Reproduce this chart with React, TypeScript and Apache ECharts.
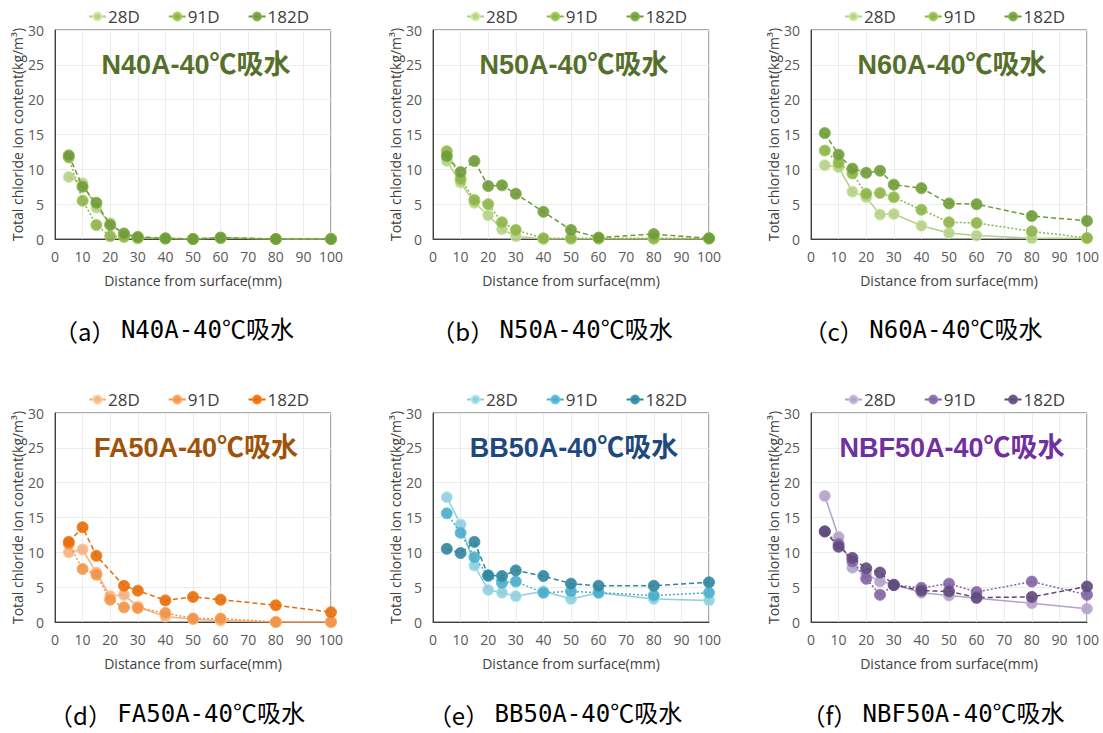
import React, { useEffect, useRef } from "react";
import * as echarts from "echarts";

const depths = [5, 10, 15, 20, 25, 30, 40, 50, 60, 80, 100];
const ageNames = ["28D", "91D", "182D"];
const xTicks = [0, 10, 20, 30, 40, 50, 60, 70, 80, 90, 100];
const yTicks = [0, 5, 10, 15, 20, 25, 30];

// N40A
const n40a28 = [8.9, 8.0, 4.5, 2.3, 0.6, 0.3, 0.1, 0.0, 0.2, 0.0, 0.0];
const n40a91 = [11.7, 5.5, 2.0, 0.4, 0.3, 0.1, 0.05, 0.0, 0.1, 0.0, 0.0];
const n40a182 = [12.0, 7.5, 5.2, 2.0, 0.8, 0.3, 0.1, 0.0, 0.2, 0.0, 0.0];
// N50A
const n50a28 = [11.2, 8.1, 5.2, 3.4, 1.4, 0.4, 0.0, 0.0, 0.0, 0.0, 0.0];
const n50a91 = [12.6, 8.6, 5.6, 5.0, 2.4, 1.3, 0.1, 0.1, 0.1, 0.1, 0.1];
const n50a182 = [11.9, 9.6, 11.2, 7.6, 7.7, 6.5, 3.9, 1.3, 0.2, 0.7, 0.1];
// N60A
const n60a28 = [10.6, 10.3, 6.8, 6.0, 3.5, 3.6, 1.9, 0.86, 0.5, 0.1, 0.1];
const n60a91 = [12.7, 10.9, 9.4, 6.5, 6.6, 6.0, 4.2, 2.4, 2.3, 1.1, 0.15];
const n60a182 = [15.2, 12.1, 10.1, 9.5, 9.8, 7.8, 7.3, 5.1, 5.0, 3.3, 2.6];
// FA50A
const fa50a28 = [10.0, 10.4, 7.1, 3.7, 3.9, 2.2, 0.8, 0.4, 0.2, 0.0, 0.0];
const fa50a91 = [11.2, 7.6, 6.8, 3.2, 2.1, 2.0, 1.3, 0.5, 0.5, 0.0, 0.0];
const fa50a182 = [11.5, 13.6, 9.5, null, 5.2, 4.5, 3.1, 3.6, 3.2, 2.4, 1.4];
// BB50A
const bb50a28 = [17.9, 14.0, 8.1, 4.6, 4.2, 3.7, 4.4, 3.3, 4.2, 3.3, 3.1];
const bb50a91 = [15.6, 12.8, 9.3, 6.6, 5.6, 5.8, 4.2, 4.4, 4.2, 3.8, 4.2];
const bb50a182 = [10.5, 9.9, 11.5, 6.7, 6.6, 7.4, 6.6, 5.5, 5.2, 5.2, 5.7];
// NBF50A
const nbf50a28 = [18.1, 12.2, 7.8, 6.9, 5.8, 5.4, 4.2, 3.8, 3.4, 2.7, 1.9];
const nbf50a91 = [13.0, 11.2, 8.7, 6.2, 3.9, 5.3, 4.9, 5.5, 4.3, 5.8, 3.9];
const nbf50a182 = [13.0, 10.8, 9.2, 7.7, 7.1, 5.3, 4.5, 4.4, 3.5, 3.6, 5.1];

const panelTitles = ["N40A-40℃吸水", "N50A-40℃吸水", "N60A-40℃吸水", "FA50A-40℃吸水", "BB50A-40℃吸水", "NBF50A-40℃吸水"];
const captionLetters = ["a", "b", "c", "d", "e", "f"];
const panelData = [
  [n40a28, n40a91, n40a182],
  [n50a28, n50a91, n50a182],
  [n60a28, n60a91, n60a182],
  [fa50a28, fa50a91, fa50a182],
  [bb50a28, bb50a91, bb50a182],
  [nbf50a28, nbf50a91, nbf50a182],
];

const green = ["#b5cf8a", "#8db34b", "#6f9a3a"];
const orange = ["#f4b183", "#f0924a", "#e46c0a"];
const blue = ["#92cddc", "#4bacc6", "#31849b"];
const purple = ["#b3a2c7", "#8064a2", "#5f497a"];
const palettes = [green, green, green, orange, blue, purple];
const titleColors = ["#55702a", "#55702a", "#55702a", "#a0520a", "#1f497d", "#7030a0"];
const lineTypes: any[] = ["solid", [2, 2], [5, 3]];

const gridLefts = [55, 433, 811];
const gridTops = [30, 413];
const gridW = 276;
const gridH = 209;
const captionCenters = [174, 552, 923, 177, 555, 933];
const captionY = [330, 714];

export default function App() {
  const ref = useRef<HTMLDivElement>(null);
  useEffect(() => {
    if (!ref.current) return;
    const chart = echarts.init(ref.current, undefined, { renderer: "svg" });
    const grids: any[] = [];
    const xAxes: any[] = [];
    const yAxes: any[] = [];
    const series: any[] = [];
    const legends: any[] = [];
    const graphics: any[] = [];
    const tickFont = "Open Sans, Noto Sans, sans-serif";
    for (let p = 0; p < 6; p++) {
      const col = p % 3;
      const row = Math.floor(p / 3);
      const left = gridLefts[col];
      const top = gridTops[row];
      grids.push({
        left, top, width: gridW, height: gridH,
        show: true, borderColor: "#595959", borderWidth: 1, backgroundColor: "#ffffff",
      });
      xAxes.push({
        type: "value", gridIndex: p, min: 0, max: 100, interval: 10,
        name: "Distance from surface(mm)", nameLocation: "middle", nameGap: 34,
        nameTextStyle: { fontSize: 14, color: "#404040", fontFamily: tickFont },
        axisLine: { show: true, onZero: false, lineStyle: { color: "#404040", width: 1 } },
        axisTick: { show: false },
        axisLabel: { fontSize: 14, color: "#595959", fontFamily: tickFont, margin: 10 },
        splitLine: { show: true, lineStyle: { color: "#ececec", width: 1 } },
      });
      yAxes.push({
        type: "value", gridIndex: p, min: 0, max: 30, interval: 5,
        name: "Total chloride ion content(kg/m³)", nameLocation: "middle", nameGap: 30,
        nameTextStyle: { fontSize: 14, color: "#404040", fontFamily: tickFont },
        axisLine: { show: true, lineStyle: { color: "#404040", width: 1 } },
        axisTick: { show: false },
        axisLabel: { fontSize: 14, color: "#595959", fontFamily: tickFont, margin: 11 },
        splitLine: { show: true, lineStyle: { color: "#ececec", width: 1 } },
      });
      const names: string[] = [];
      for (let s = 0; s < 3; s++) {
        const color = palettes[p][s];
        const name = p + "|" + ageNames[s];
        names.push(name);
        series.push({
          type: "line", name, xAxisIndex: p, yAxisIndex: p,
          data: depths.map((d, j) => [d, panelData[p][s][j] === null ? "-" : panelData[p][s][j]]),
          connectNulls: true,
          symbol: "circle", symbolSize: 11,
          lineStyle: { color, width: 1.5, type: lineTypes[s] },
          itemStyle: { color, borderColor: echarts.color.lift(color, -0.15), borderWidth: 1, opacity: 0.9 },
          z: 3 + s,
        });
      }
      legends.push({
        data: names,
        left: left + 28,
        top: row === 0 ? 3 : 386,
        itemGap: 28,
        itemWidth: 17,
        itemHeight: 10,
        lineStyle: { type: "solid" },
        textStyle: { fontSize: 17, color: "#404040", fontFamily: tickFont, padding: [0, 0, 0, -3] },
        formatter: (n: string) => n.split("|")[1],
      });
      graphics.push({
        type: "text",
        x: left + gridW / 2 + 3,
        y: top + 35,
        style: {
          text: panelTitles[p],
          fill: titleColors[p],
          font: "bold 27px 'Liberation Sans', 'Noto Sans CJK SC', sans-serif",
          textAlign: "center",
          textVerticalAlign: "middle",
        },
        z: 10,
      });
      graphics.push({
        type: "text",
        x: captionCenters[p],
        y: captionY[row],
        style: {
          text: "{p|（" + captionLetters[p] + "） }{m|" + panelTitles[p] + "}",
          fill: "#000000",
          textAlign: "center",
          textVerticalAlign: "middle",
          rich: {
            p: { fontSize: 24, fontFamily: "'Noto Sans CJK SC', sans-serif", fill: "#000000" },
            m: { fontSize: 24, fontFamily: "'DejaVu Sans Mono', 'Noto Sans CJK SC', monospace", fill: "#000000" },
          },
        },
      });
    }
    chart.setOption({
      animation: false,
      backgroundColor: "#ffffff",
      grid: grids,
      xAxis: xAxes,
      yAxis: yAxes,
      legend: legends,
      series,
      graphic: graphics,
    });
    return () => chart.dispose();
  }, []);
  return (
    <div
      ref={ref}
      style={{ position: "absolute", left: 0, top: 0, width: 1103, height: 733 }}
    />
  );
}
